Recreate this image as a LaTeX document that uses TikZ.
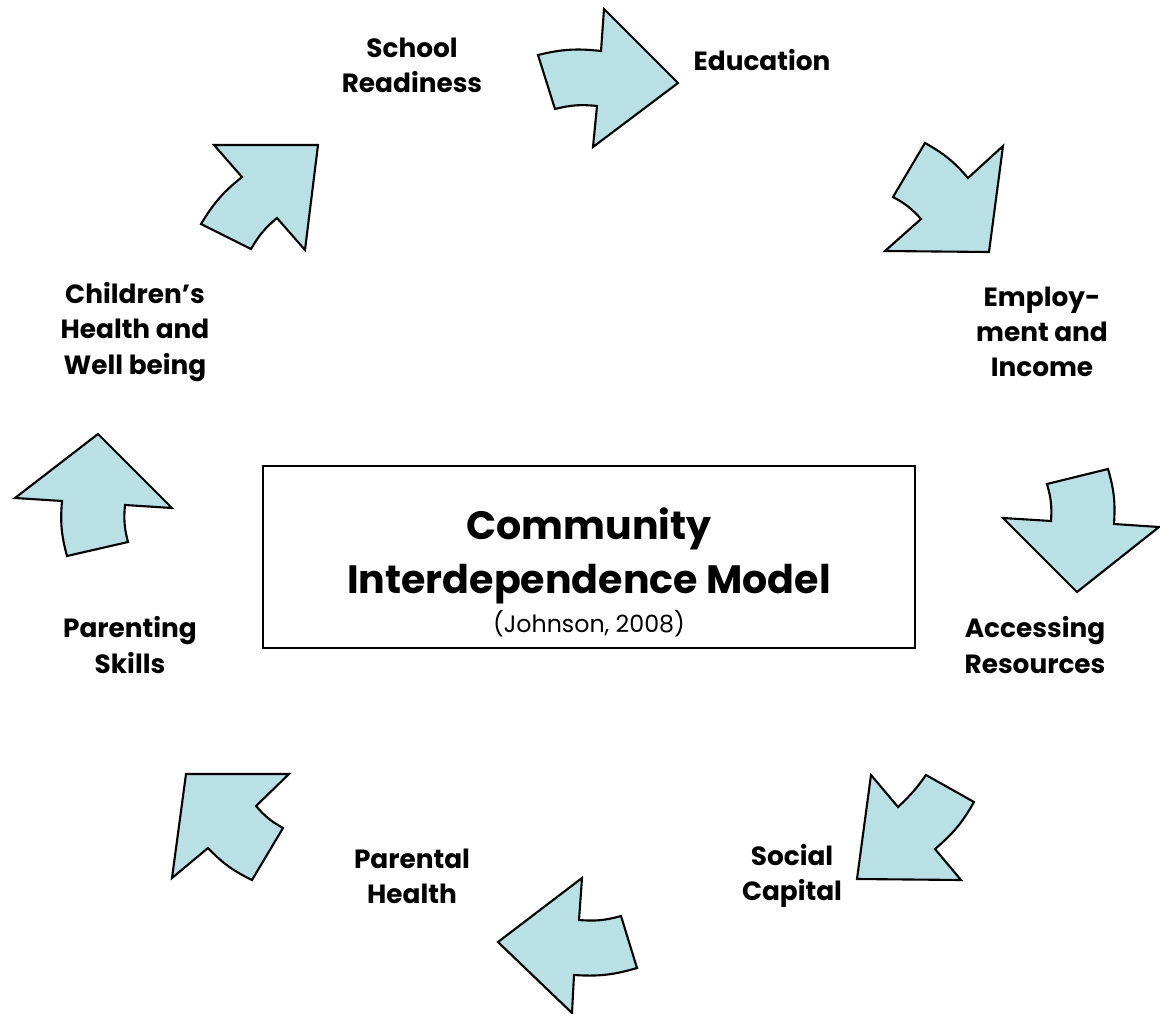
\documentclass[tikz,border=0pt]{standalone}
\usepackage{fontspec}
\setmainfont{Poppins}
\definecolor{arrowblue}{RGB}{185,224,228}

\def\eduarrow{(538,55) to[bend left=10] (601,51) -- (604,9) -- (678,83) -- (593,147) -- (597,106) to[bend right=10] (555,109) -- cycle}
\def\employarrow{(925,143) to[bend left=10] (968,178) -- (1003,146) -- (989,252) -- (885,251) -- (921,219) to[bend right=10] (893,197) -- cycle}
\def\accessarrow{(1047,484) -- (1108,469) to[bend left=10] (1114,524) -- (1159,527) -- (1077,592) -- (1003,518) -- (1051,521) to[bend right=10] cycle}
\def\socialarrow{(871,775) -- (898,807) to[bend right=6] (926,775) -- (974,802) to[bend left=10] (935,849) -- (961,880) -- (857,879) -- cycle}
\def\parhealtharrow{(582,878) -- (579,920) to[bend right=10] (621,916) -- (637,968) to[bend left=10] (574,975) -- (572,1013) -- (498,942) -- cycle}
\def\parskillarrow{(186,774) -- (289,774) -- (256,806) to[bend right=10] (283,828) -- (252,880) to[bend left=10] (208,848) -- (172,878) -- cycle}
\def\childarrow{(98,434) -- (172,508) -- (125,505) to[bend right=10] (128,542) -- (67,556) to[bend left=10] (62,501) -- (15,498) -- cycle}
\def\schoolarrow{(214,145) -- (318,145) -- (305,250) -- (277,218) to[bend right=10] (251,249) -- (201,224) to[bend left=10] (242,177) -- cycle}

\tikzset{
  blockarrow/.style={line width=1.2pt, line join=miter, fill=arrowblue},
  cyclelabel/.style={font=\bfseries\fontsize{15}{20}\selectfont, align=center, inner sep=0pt},
  modelbox/.style={draw, line width=1.2pt, minimum width=13.04cm, minimum height=3.64cm, inner sep=0pt}
}

\begin{document}
\begin{tikzpicture}[x=0.02cm, y=-0.02cm]
  \useasboundingbox (0,0) rectangle (1160,1014);
  % the eight steps of the cycle
  \draw[blockarrow] \eduarrow;
  \draw[blockarrow] \employarrow;
  \draw[blockarrow] \accessarrow;
  \draw[blockarrow] \socialarrow;
  \draw[blockarrow] \parhealtharrow;
  \draw[blockarrow] \parskillarrow;
  \draw[blockarrow] \childarrow;
  \draw[blockarrow] \schoolarrow;

  \node[cyclelabel] (school) at (412,65) {School\\Readiness};
  \node[cyclelabel] (educ) at (762,60) {Education};
  \node[cyclelabel] (employ) at (1042,332) {Employ-\\ment and\\Income};
  \node[cyclelabel] (access) at (1035,645) {Accessing\\Resources};
  \node[cyclelabel] (social) at (792,876) {Social\\Capital};
  \node[cyclelabel] (parhealth) at (412,876) {Parental\\Health};
  \node[cyclelabel] (parskill) at (130,645) {Parenting\\Skills};
  \node[cyclelabel] (child) at (135,332) {Children’s\\Health and\\Well being};

  % model in the middle
  \node[modelbox] (model) at (589,557) {};
  \node[font=\bfseries\fontsize{22.5}{31}\selectfont, align=center, inner sep=0pt] (title) at (589,556) {Community\\Interdependence Model};
  \node[font=\fontsize{13.5}{16}\selectfont, inner sep=0pt] (cite) at (589,624) {(Johnson, 2008)};
\end{tikzpicture}
\end{document}
